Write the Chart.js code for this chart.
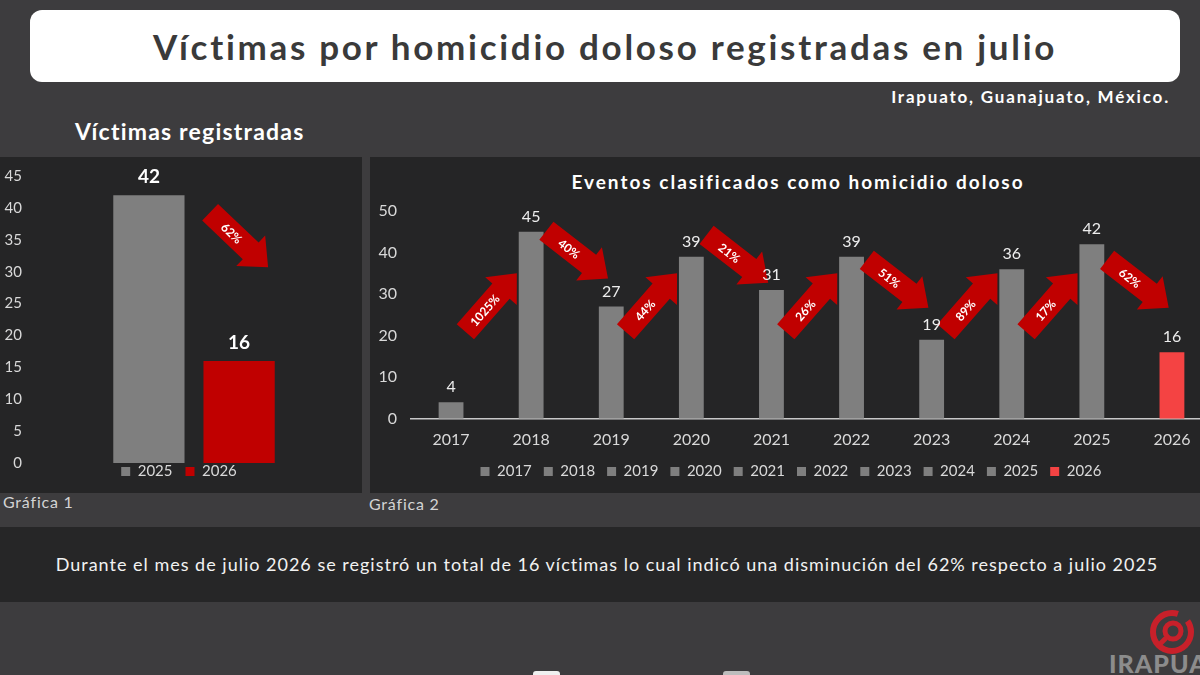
<!DOCTYPE html>
<html lang="es">
<head>
<meta charset="utf-8">
<title>Víctimas por homicidio doloso registradas en julio</title>
<script src="https://cdn.jsdelivr.net/npm/chart.js@4.4.1/dist/chart.umd.min.js"></script>
<style>
  html, body { margin: 0; padding: 0; }
  body {
    width: 1200px; height: 675px; overflow: hidden; position: relative;
    background: #3d3c3e; font-family: Lato, "Open Sans", sans-serif; color: #fff;
  }
  .abs { position: absolute; }
  .titulo {
    left: 30px; top: 10px; width: 1150px; height: 72px; background: #fff;
    border-radius: 12px; text-align: center; line-height: 72px;
    font-weight: 700; font-size: 35px; letter-spacing: 2.7px; color: #3a3a3a;
  }
  .lugar { right: 30px; top: 86px; font-weight: 700; font-size: 17px; letter-spacing: 1.8px; }
  .subtitulo { left: 75px; top: 117px; font-weight: 700; font-size: 23px; letter-spacing: 1.2px; }
  .panel { background: #252526; top: 157px; height: 336px; }
  .nota { font-size: 16px; letter-spacing: 0.8px; color: #d4d4d4; }
  .titulo2 {
    left: 370px; width: 856px; top: 170px; text-align: center;
    font-weight: 700; font-size: 19px; letter-spacing: 2px;
  }
  .banda {
    left: 14px; top: 527px; width: 1186px; height: 75px; background: #262627;
    text-align: center; line-height: 75px; font-size: 18px; letter-spacing: 1px; color: #f2f2f2;
  }
  .banda-fondo { left: 0; top: 527px; width: 14px; height: 75px; background: #262627; }
  .marca { left: 1109px; top: 648px; font-weight: 900; font-size: 25px; color: #8c8c8c; letter-spacing: 1px; }
</style>
</head>
<body>
<div class="abs titulo">Víctimas por homicidio doloso registradas en julio</div>
<div class="abs lugar">Irapuato, Guanajuato, México.</div>
<div class="abs subtitulo">Víctimas registradas</div>

<div class="abs panel" style="left:0;width:362px;"></div>
<div class="abs panel" style="left:370px;width:842px;"></div>

<div class="abs nota" style="left:3px;top:492px;">Gráfica 1</div>
<div class="abs nota" style="left:369px;top:494px;">Gráfica 2</div>
<div class="abs titulo2">Eventos clasificados como homicidio doloso</div>

<div class="abs" style="left:0;top:157px;width:362px;height:344px;"><canvas id="grafica1"></canvas></div>
<div class="abs" style="left:370px;top:157px;width:842px;height:336px;"><canvas id="grafica2"></canvas></div>

<div class="abs banda-fondo"></div>
<div class="abs banda">Durante el mes de julio 2026 se registró un total de 16 víctimas lo cual indicó una disminución del 62% respecto a julio 2025</div>

<svg class="abs" style="left:1146px;top:608px;" width="54" height="50" viewBox="0 0 54 50">
  <circle cx="26" cy="24" r="19" fill="none" stroke="#c8202a" stroke-width="6" stroke-dasharray="95 12"/>
  <circle cx="27" cy="23" r="8" fill="none" stroke="#c8202a" stroke-width="5"/>
  <line x1="20" y1="30" x2="13" y2="37" stroke="#c8202a" stroke-width="5"/>
</svg>
<div class="abs marca">IRAPUAT</div>
<div class="abs" style="left:533px;top:671px;width:27px;height:8px;background:#f0f0f0;border-radius:3px;"></div>
<div class="abs" style="left:723px;top:671px;width:27px;height:8px;background:#bdbdbd;border-radius:3px;"></div>

<script>
// Gráfica 1: víctimas registradas en julio
const victimasSeries = ['2025', '2026'];
const victimasValores = [42, 16];
const victimasVariacion = '62%';

// Gráfica 2: eventos clasificados como homicidio doloso
const anios = ['2017', '2018', '2019', '2020', '2021', '2022', '2023', '2024', '2025', '2026'];
const eventos = [4, 45, 27, 39, 31, 39, 19, 36, 42, 16];
const variaciones = ['1025%', '40%', '44%', '21%', '26%', '51%', '89%', '17%', '62%'];

const GRIS = '#7f7f7f';
const ROJO = '#c00000';
const ROJO_CLARO = '#f44343';
const TEXTO = '#d9d9d9';
const FUENTE = 'Lato, "Open Sans", sans-serif';

Chart.defaults.font.family = FUENTE;
Chart.defaults.color = TEXTO;

// flecha roja con el porcentaje escrito encima
function flecha(ctx, cx, cy, ang, largo, texto) {
  const cabeza = 24, ancho = 23, anchoCabeza = 42;
  ctx.save();
  ctx.translate(cx, cy);
  ctx.rotate(ang);
  ctx.beginPath();
  ctx.moveTo(-largo / 2, -ancho / 2);
  ctx.lineTo(largo / 2 - cabeza, -ancho / 2);
  ctx.lineTo(largo / 2 - cabeza, -anchoCabeza / 2);
  ctx.lineTo(largo / 2, 0);
  ctx.lineTo(largo / 2 - cabeza, anchoCabeza / 2);
  ctx.lineTo(largo / 2 - cabeza, ancho / 2);
  ctx.lineTo(-largo / 2, ancho / 2);
  ctx.closePath();
  ctx.fillStyle = ROJO;
  ctx.fill();
  ctx.fillStyle = '#ffffff';
  ctx.font = 'bold 12px ' + FUENTE;
  ctx.textAlign = 'center';
  ctx.textBaseline = 'middle';
  ctx.fillText(texto, -cabeza / 2 + 2, 1);
  ctx.restore();
}

const etiquetas1 = {
  id: 'etiquetas1',
  afterLayout(chart) {
    // la leyenda va pegada al eje, como en el original
    chart.legend.top -= 12;
    chart.legend.bottom -= 12;
  },
  afterDatasetsDraw(chart) {
    const ctx = chart.ctx;
    const y = chart.scales.y;
    const a = chart.getDatasetMeta(0).data[0];
    const b = chart.getDatasetMeta(1).data[0];
    flecha(ctx, b.x, y.getPixelForValue((victimasValores[0] + victimasValores[1]) / 2 + 6), 0.76, 80, victimasVariacion);
    ctx.save();
    ctx.fillStyle = '#ffffff';
    ctx.font = 'bold 19px ' + FUENTE;
    ctx.textAlign = 'center';
    ctx.textBaseline = 'middle';
    [a, b].forEach((bar, i) => ctx.fillText(victimasValores[i], bar.x, bar.y - 18));
    ctx.restore();
  }
};

new Chart(document.getElementById('grafica1'), {
  type: 'bar',
  data: {
    labels: ['julio'],
    datasets: victimasSeries.map((s, i) => ({
      label: s,
      data: [victimasValores[i]],
      backgroundColor: i === 0 ? GRIS : ROJO
    }))
  },
  options: {
    responsive: true,
    maintainAspectRatio: false,
    animation: false,
    categoryPercentage: 0.55,
    barPercentage: 0.79,
    layout: { padding: { top: 19, right: 4, bottom: 0 } },
    plugins: {
      tooltip: { enabled: false },
      legend: {
        position: 'bottom',
        onClick: () => {},
        labels: { boxWidth: 9, boxHeight: 9, padding: 13, color: TEXTO, font: { size: 15 } }
      }
    },
    scales: {
      x: { display: false },
      y: {
        min: 0, max: 45,
        afterFit: s => { s.width = 30; },
        grid: { display: false },
        border: { display: false },
        ticks: { stepSize: 5, padding: 0, color: TEXTO, font: { size: 15 } }
      }
    }
  },
  plugins: [etiquetas1]
});

const colores2 = anios.map((a, i) => i === anios.length - 1 ? ROJO_CLARO : GRIS);

const etiquetas2 = {
  id: 'etiquetas2',
  afterDatasetsDraw(chart) {
    const ctx = chart.ctx;
    const y = chart.scales.y;
    const barras = chart.getDatasetMeta(0).data;
    for (let i = 0; i < variaciones.length; i++) {
      const sube = eventos[i + 1] > eventos[i];
      const cx = (barras[i].x + barras[i + 1].x) / 2 + (sube ? 0 : 6);
      const cy = sube ? y.getPixelForValue(28) : y.getPixelForValue((eventos[i] + eventos[i + 1]) / 2 + 3.5);
      flecha(ctx, cx, cy, sube ? -0.85 : 0.66, 78, variaciones[i]);
    }
    ctx.save();
    ctx.fillStyle = '#ededed';
    ctx.font = '16px ' + FUENTE;
    ctx.textAlign = 'center';
    ctx.textBaseline = 'middle';
    barras.forEach((bar, i) => ctx.fillText(eventos[i], bar.x, bar.y - 15));
    ctx.restore();
  }
};

new Chart(document.getElementById('grafica2'), {
  type: 'bar',
  data: {
    labels: anios,
    datasets: [{
      label: 'Eventos',
      data: eventos,
      backgroundColor: colores2
    }]
  },
  options: {
    responsive: true,
    maintainAspectRatio: false,
    animation: false,
    categoryPercentage: 1,
    barPercentage: 0.31,
    layout: { padding: { top: 54, right: 0, bottom: 4 } },
    plugins: {
      tooltip: { enabled: false },
      title: { display: false },
      legend: {
        position: 'bottom',
        onClick: () => {},
        labels: {
          boxWidth: 9, boxHeight: 9, padding: 12, color: TEXTO, font: { size: 15 },
          generateLabels: () => anios.map((a, i) => ({
            text: a, fillStyle: colores2[i], strokeStyle: colores2[i],
            lineWidth: 0, fontColor: TEXTO, hidden: false, index: i
          }))
        }
      }
    },
    scales: {
      x: {
        grid: { display: false },
        border: { display: true, color: '#c8c8c8', width: 1.5 },
        ticks: { color: TEXTO, font: { size: 16 }, padding: 3 }
      },
      y: {
        min: 0, max: 50,
        afterFit: s => { s.width = 41; },
        grid: { display: false },
        border: { display: false },
        ticks: { stepSize: 10, padding: 6, color: TEXTO, font: { size: 16 } }
      }
    }
  },
  plugins: [etiquetas2]
});
</script>
</body>
</html>
